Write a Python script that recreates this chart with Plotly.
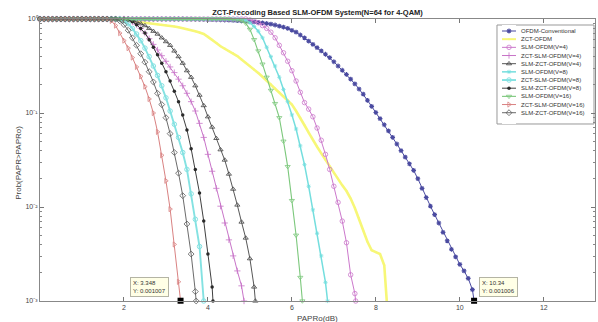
import math
import plotly.graph_objects as go

# PAPR0 threshold grid (dB) on which every CCDF curve is sampled
PAPR0_DB = [round(0.1 * i, 1) for i in range(105)]

SERIES_NAMES = [
    "OFDM-Conventional",
    "ZCT-OFDM",
    "SLM-OFDM(V=4)",
    "ZCT-SLM-OFDM(V=4)",
    "SLM-ZCT-OFDM(V=4)",
    "SLM-OFDM(V=8)",
    "ZCT-SLM-OFDM(V=8)",
    "SLM-ZCT-OFDM(V=8)",
    "SLM-OFDM(V=16)",
    "ZCT-SLM-OFDM(V=16)",
    "SLM-ZCT-OFDM(V=16)",
]

# Prob(PAPR > PAPR0) on the grid, starting at 0 dB
CCDF_OFDM = [1.0] * 35 + [
    0.9954, 0.9954, 0.9931, 0.9908, 0.9886, 0.9863, 0.984, 0.9817, 0.977, 0.975,
    0.9705, 0.966, 0.9594, 0.9528, 0.9462, 0.9397, 0.9311, 0.9204, 0.9099, 0.8954,
    0.881, 0.863, 0.8414, 0.8185, 0.7943, 0.7586, 0.7244, 0.6761, 0.631, 0.5821,
    0.537, 0.4955, 0.4571, 0.4217, 0.389, 0.3508, 0.3162, 0.2851, 0.257, 0.2291,
    0.2042, 0.1799, 0.1585, 0.1365, 0.1175, 0.1012, 0.0871, 0.075, 0.0646, 0.055,
    0.0468, 0.0398, 0.0339, 0.0288, 0.0245, 0.02, 0.0158, 0.0126, 0.0102, 0.0083,
    0.00676, 0.00537, 0.00437, 0.00355, 0.00295, 0.00245, 0.00209, 0.00174, 0.00132,
]
CCDF_ZCT = [1.0] * 15 + [
    0.9954, 0.9908, 0.9863, 0.9817, 0.977, 0.9705, 0.9616, 0.9506, 0.9376, 0.9247,
    0.9141, 0.9036, 0.8913, 0.881, 0.869, 0.857, 0.843, 0.832, 0.817, 0.80,
    0.782, 0.762, 0.741, 0.719, 0.692, 0.646, 0.603, 0.556, 0.513, 0.484,
    0.457, 0.4315, 0.403, 0.3715, 0.343, 0.316, 0.288, 0.266, 0.243, 0.221,
    0.202, 0.182, 0.166, 0.151, 0.138, 0.123, 0.105, 0.0891, 0.0741, 0.0617,
    0.0513, 0.0437, 0.0372, 0.0316, 0.0269, 0.0229, 0.02, 0.017, 0.0148, 0.0123,
    0.00977, 0.00759, 0.00562, 0.00427, 0.00347, 0.00331, 0.00316, 0.0024,
]
CCDF_SLM_V4 = [1.0] * 50 + [
    0.977, 0.955, 0.912, 0.851, 0.794, 0.724, 0.631, 0.525, 0.437, 0.355,
    0.282, 0.219, 0.166, 0.129, 0.11, 0.0912, 0.0692, 0.0513, 0.0363, 0.0251,
    0.0166, 0.0112, 0.00708, 0.00417, 0.0019, 0.0012,
]
CCDF_ZCT_SLM_V4 = [1.0] * 21 + [
    0.977, 0.933, 0.871, 0.794, 0.708, 0.617, 0.537, 0.468, 0.407, 0.355,
    0.309, 0.269, 0.229, 0.195, 0.162, 0.132, 0.105, 0.0776, 0.055, 0.0363,
    0.024, 0.0158, 0.0102, 0.00676, 0.00447, 0.00302, 0.00209, 0.00145,
]
CCDF_SLM_ZCT_V4 = [1.0] * 22 + [
    0.977, 0.933, 0.891, 0.851, 0.794, 0.741, 0.692, 0.631, 0.575, 0.525,
    0.457, 0.398, 0.339, 0.282, 0.24, 0.195, 0.155, 0.12, 0.0912, 0.0708,
    0.0537, 0.0407, 0.0316, 0.0224, 0.0155, 0.0105, 0.00692, 0.00468, 0.00282, 0.00141,
]
CCDF_SLM_V8 = [1.0] * 48 + [
    0.989, 0.966, 0.912, 0.832, 0.741, 0.631, 0.501, 0.398, 0.316, 0.24,
    0.178, 0.132, 0.0955, 0.0676, 0.0447, 0.0282, 0.0166, 0.00933, 0.00525, 0.00302,
    0.00158,
]
CCDF_ZCT_SLM_V8 = [1.0] * 20 + [
    0.955, 0.891, 0.794, 0.692, 0.589, 0.49, 0.398, 0.316, 0.251, 0.195,
    0.145, 0.105, 0.0759, 0.055, 0.038, 0.0251, 0.0138, 0.0074, 0.0038,
]
CCDF_SLM_ZCT_V8 = [1.0] * 21 + [
    0.977, 0.933, 0.871, 0.794, 0.708, 0.603, 0.501, 0.417, 0.339, 0.275,
    0.219, 0.17, 0.132, 0.0955, 0.0661, 0.0417, 0.0251, 0.0141, 0.00708, 0.00316,
    0.00141,
]
CCDF_SLM_V16 = [1.0] * 46 + [
    0.989, 0.977, 0.955, 0.902, 0.776, 0.603, 0.457, 0.331, 0.24, 0.174,
    0.126, 0.0891, 0.0501, 0.0269, 0.0117, 0.00501, 0.00178,
]
CCDF_ZCT_SLM_V16 = [1.0] * 17 + [
    0.955, 0.851, 0.708, 0.589, 0.49, 0.389, 0.309, 0.245, 0.191, 0.141,
    0.1, 0.063, 0.0355, 0.019, 0.0095, 0.004, 0.0016,
]
CCDF_SLM_ZCT_V16 = [1.0] * 19 + [
    0.955, 0.871, 0.759, 0.631, 0.525, 0.427, 0.347, 0.275, 0.214, 0.162,
    0.123, 0.0891, 0.0603, 0.038, 0.0229, 0.0132, 0.0066, 0.00316, 0.00126,
]

# last (PAPR0, prob) point of each curve, where the estimate reaches 1e-3
END_POINTS = [
    (10.34, 0.001006), (8.26, 0.001), (7.52, 0.001), (4.86, 0.001),
    (5.13, 0.001), (6.85, 0.001), (3.9, 0.001), (4.12, 0.001),
    (6.25, 0.001), (3.348, 0.001007), (3.72, 0.001),
]

CCDF_CURVES = [
    CCDF_OFDM, CCDF_ZCT, CCDF_SLM_V4, CCDF_ZCT_SLM_V4, CCDF_SLM_ZCT_V4,
    CCDF_SLM_V8, CCDF_ZCT_SLM_V8, CCDF_SLM_ZCT_V8, CCDF_SLM_V16,
    CCDF_ZCT_SLM_V16, CCDF_SLM_ZCT_V16,
]

# data-cursor readouts
TIP_X = [3.348, 10.34]
TIP_Y = [0.001007, 0.001006]

Y_TICKS = [1e-3, 1e-2, 1e-1, 1.0]
Y_TICK_TEXT = ["10⁻³", "10⁻²", "10⁻¹", "10⁰"]
X_TICKS = [2, 4, 6, 8, 10, 12]

# line colour, line width, marker symbol, marker size, marker stroke
STYLES = [
    ("#4a4aa0", 1.0, "asterisk-open", 4, 1.1),
    ("#f7f777", 2.6, "circle", 2, 0.0),
    ("#cc78cc", 1.0, "circle-open", 4.5, 0.8),
    ("#c874c8", 1.0, "cross-thin-open", 4.5, 0.8),
    ("#444444", 0.9, "triangle-up-open", 4.5, 0.8),
    ("#74dede", 1.5, "asterisk-open", 3.5, 0.8),
    ("#84e2e2", 1.9, "circle-open", 4.5, 1.0),
    ("#2a2a2a", 0.9, "circle", 3.5, 0.0),
    ("#7cc87c", 1.1, "triangle-down-open", 4.5, 0.8),
    ("#d98282", 1.0, "triangle-right-open", 4.5, 0.8),
    ("#5a5a5a", 0.9, "diamond-open", 4.5, 0.8),
]

FONT = "Liberation Sans, Arial, sans-serif"


def marker_of(style):
    color, _, symbol, size, stroke = style
    m = dict(symbol=symbol, size=size, color=color)
    if stroke > 0:
        m["line"] = dict(width=stroke, color=color)
    return m


fig = go.Figure()

for name, ccdf, end, style in zip(SERIES_NAMES, CCDF_CURVES, END_POINTS, STYLES):
    fig.add_trace(go.Scatter(
        x=PAPR0_DB[:len(ccdf)] + [end[0]],
        y=ccdf + [end[1]],
        mode="lines+markers",
        name=name,
        line=dict(color=style[0], width=style[1]),
        marker=marker_of(style),
        cliponaxis=False,
        showlegend=False,
    ))

# data-cursor squares
fig.add_trace(go.Scatter(
    x=TIP_X, y=TIP_Y, mode="markers",
    marker=dict(symbol="square", size=6, color="black"),
    cliponaxis=False, showlegend=False,
))

for xv, yv, anchor, shift in zip(TIP_X, TIP_Y, ["right", "left"], [-12, 5]):
    fig.add_annotation(
        x=xv, y=math.log10(yv), xref="x", yref="y",
        text=f"X: {xv:g}<br>Y: {yv:g}",
        showarrow=False, xanchor=anchor, yanchor="bottom",
        xshift=shift, yshift=4, align="left",
        bgcolor="#ffffe6", bordercolor="#b4b4a4", borderwidth=1, borderpad=2,
        font=dict(family=FONT, size=6, color="#333"),
    )

# compact legend panel drawn on its own small axes
for i, (name, style) in enumerate(zip(SERIES_NAMES, STYLES)):
    fig.add_trace(go.Scatter(
        x=[0, 1], y=[i, i], xaxis="x2", yaxis="y2", mode="lines",
        line=dict(color=style[0], width=min(style[1], 2.0)),
        showlegend=False, hoverinfo="skip",
    ))
    fig.add_trace(go.Scatter(
        x=[0.5], y=[i], xaxis="x2", yaxis="y2", mode="markers",
        marker=marker_of(style), showlegend=False, hoverinfo="skip",
    ))
    fig.add_annotation(
        x=0.863, y=i, xref="paper", yref="y2", text=name,
        showarrow=False, xanchor="left", yanchor="middle",
        font=dict(family=FONT, size=6, color="#333"),
    )

fig.add_shape(
    type="rect", xref="paper", yref="paper",
    x0=0.8234, x1=0.9982, y0=0.6277, y1=0.9787,
    line=dict(color="#999", width=1), fillcolor="white", layer="below",
)

MINOR_Y = [m * 10 ** e for e in (-3, -2, -1) for m in range(2, 10)]

fig.update_layout(
    width=598, height=322,
    margin=dict(l=40, r=3, t=19, b=21),
    paper_bgcolor="white", plot_bgcolor="white",
    font=dict(family=FONT, size=7, color="#444"),
    showlegend=False,
    title=dict(
        text="<b>ZCT-Precoding Based SLM-OFDM System(N=64 for 4-QAM)</b>",
        x=0.5, xref="paper", xanchor="center",
        y=1 - 12 / 322, yanchor="middle",
        font=dict(family=FONT, size=7.5, color="#222"),
    ),
    xaxis=dict(
        range=[0, 13.22], tickmode="array", tickvals=X_TICKS,
        ticks="inside", ticklen=4, tickcolor="#777",
        showline=True, linecolor="#888", linewidth=1, mirror="ticks",
        showgrid=False, zeroline=False,
        tickfont=dict(family=FONT, size=7, color="#444"),
    ),
    yaxis=dict(
        type="log", range=[-3, 0],
        tickmode="array", tickvals=Y_TICKS, ticktext=Y_TICK_TEXT,
        ticks="inside", ticklen=4, tickcolor="#777",
        minor=dict(tickmode="array", tickvals=MINOR_Y, ticks="inside",
                   ticklen=2, tickcolor="#888"),
        showline=True, linecolor="#888", linewidth=1, mirror="ticks",
        showgrid=False, zeroline=False,
        tickfont=dict(family=FONT, size=7, color="#444"),
    ),
    xaxis2=dict(domain=[0.8324, 0.8577], range=[0, 1], anchor="y2",
                visible=False, fixedrange=True),
    yaxis2=dict(domain=[0.6277, 0.9787], range=[11.38, -0.734], anchor="x2",
                visible=False, fixedrange=True),
)

fig.add_annotation(
    x=0.5, y=0, xref="paper", yref="paper", text="PAPRo(dB)",
    showarrow=False, xanchor="center", yanchor="middle", yshift=-17,
    font=dict(family=FONT, size=8, color="#444"),
)
fig.add_annotation(
    x=0, y=0.49, xref="paper", yref="paper", text="Prob(PAPR>PAPRo)",
    showarrow=False, xanchor="center", yanchor="middle", xshift=-21,
    textangle=-90, font=dict(family=FONT, size=8, color="#444"),
)

fig.write_html("out.html")
